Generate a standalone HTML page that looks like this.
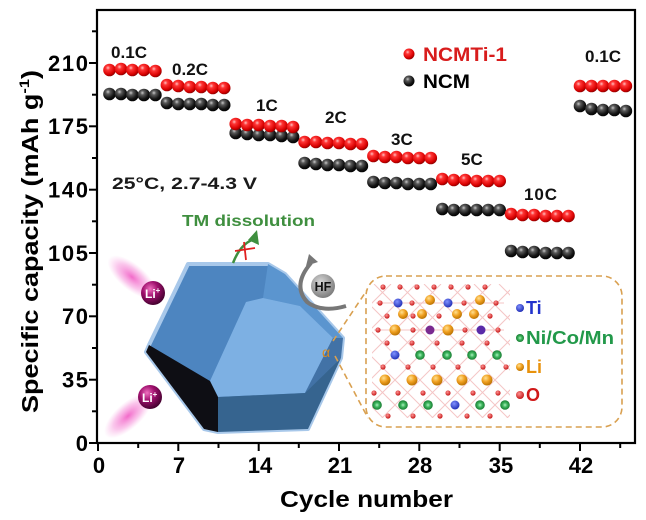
<!DOCTYPE html>
<html><head><meta charset="utf-8"><style>
html,body{margin:0;padding:0;background:#fff;}
svg{display:block;font-family:"Liberation Sans",Arial,"DejaVu Sans","Noto Sans CJK SC",sans-serif;}
</style></head><body>
<svg width="646" height="520" viewBox="0 0 646 520" xmlns="http://www.w3.org/2000/svg">
<defs>
<radialGradient id="gr" cx="0.38" cy="0.33" r="0.7"><stop offset="0" stop-color="#ffc0c0"/><stop offset="0.25" stop-color="#ff3535"/><stop offset="0.75" stop-color="#d80000"/><stop offset="1" stop-color="#8a0000"/></radialGradient>
<radialGradient id="gb" cx="0.38" cy="0.33" r="0.7"><stop offset="0" stop-color="#c8c8c8"/><stop offset="0.25" stop-color="#5a5a5a"/><stop offset="0.7" stop-color="#141414"/><stop offset="1" stop-color="#000"/></radialGradient>
<radialGradient id="gli" cx="0.38" cy="0.33" r="0.7"><stop offset="0" stop-color="#f070c0"/><stop offset="0.45" stop-color="#a0106e"/><stop offset="1" stop-color="#40002c"/></radialGradient>
<radialGradient id="glow"><stop offset="0" stop-color="#f050c0" stop-opacity="0.85"/><stop offset="0.6" stop-color="#f480d4" stop-opacity="0.45"/><stop offset="1" stop-color="#f8a0e0" stop-opacity="0"/></radialGradient>
<radialGradient id="ghf" cx="0.4" cy="0.35" r="0.7"><stop offset="0" stop-color="#d8d8d8"/><stop offset="1" stop-color="#777"/></radialGradient>
<radialGradient id="gLi" cx="0.38" cy="0.33" r="0.7"><stop offset="0" stop-color="#ffe090"/><stop offset="0.5" stop-color="#f0a020"/><stop offset="1" stop-color="#b87000"/></radialGradient>
<radialGradient id="gO" cx="0.4" cy="0.35" r="0.7"><stop offset="0" stop-color="#ff9090"/><stop offset="1" stop-color="#c01010"/></radialGradient>
<radialGradient id="gTi" cx="0.4" cy="0.35" r="0.7"><stop offset="0" stop-color="#8090ff"/><stop offset="1" stop-color="#1a28b0"/></radialGradient>
<radialGradient id="gNi" cx="0.5" cy="0.5" r="0.5"><stop offset="0" stop-color="#b0f0c0"/><stop offset="0.45" stop-color="#40b860"/><stop offset="1" stop-color="#167a30"/></radialGradient>
<clipPath id="latclip"><rect x="372" y="284" width="138" height="134"/></clipPath>
</defs>

<rect x="97" y="10" width="538" height="433" fill="none" stroke="#000" stroke-width="2.2"/>

<g stroke="#000" stroke-width="2">
<line x1="89" y1="443" x2="97" y2="443"/><line x1="89" y1="379.7" x2="97" y2="379.7"/><line x1="89" y1="316.3" x2="97" y2="316.3"/><line x1="89" y1="253" x2="97" y2="253"/><line x1="89" y1="189.7" x2="97" y2="189.7"/><line x1="89" y1="126.3" x2="97" y2="126.3"/><line x1="89" y1="63" x2="97" y2="63"/>
<line x1="92" y1="411.3" x2="97" y2="411.3"/><line x1="92" y1="348" x2="97" y2="348"/><line x1="92" y1="284.7" x2="97" y2="284.7"/><line x1="92" y1="221.3" x2="97" y2="221.3"/><line x1="92" y1="158" x2="97" y2="158"/><line x1="92" y1="94.7" x2="97" y2="94.7"/><line x1="92" y1="31.3" x2="97" y2="31.3"/>
</g>
<g stroke="#000" stroke-width="2">
<line x1="98" y1="443" x2="98" y2="451"/><line x1="178.3" y1="443" x2="178.3" y2="451"/><line x1="258.7" y1="443" x2="258.7" y2="451"/><line x1="339" y1="443" x2="339" y2="451"/><line x1="419.3" y1="443" x2="419.3" y2="451"/><line x1="499.7" y1="443" x2="499.7" y2="451"/><line x1="580" y1="443" x2="580" y2="451"/>
<line x1="138.2" y1="443" x2="138.2" y2="448"/><line x1="218.5" y1="443" x2="218.5" y2="448"/><line x1="298.8" y1="443" x2="298.8" y2="448"/><line x1="379.2" y1="443" x2="379.2" y2="448"/><line x1="459.5" y1="443" x2="459.5" y2="448"/><line x1="539.8" y1="443" x2="539.8" y2="448"/><line x1="620.2" y1="443" x2="620.2" y2="448"/>
</g>

<g font-size="22" font-weight="bold" fill="#000" text-anchor="end">
<text x="88" y="451">0</text>
<text x="88" y="387.5" textLength="26">35</text>
<text x="88" y="324" textLength="26">70</text>
<text x="88" y="261" textLength="40">105</text>
<text x="88" y="197.5" textLength="40">140</text>
<text x="88" y="134" textLength="40">175</text>
<text x="88" y="71" textLength="40">210</text>
</g>
<g font-size="22" font-weight="bold" fill="#000" text-anchor="middle">
<text x="99" y="473">0</text><text x="179" y="473">7</text><text x="260" y="473">14</text><text x="340" y="473">21</text><text x="420" y="473">28</text><text x="501" y="473">35</text><text x="581" y="473">42</text>
</g>

<text x="280" y="507" font-size="23" font-weight="bold" textLength="173" lengthAdjust="spacingAndGlyphs">Cycle number</text>
<text transform="translate(38,241.5) rotate(-90)" font-size="23" font-weight="bold" text-anchor="middle" textLength="343" lengthAdjust="spacingAndGlyphs">Specific capacity (mAh g<tspan font-size="14" dy="-9">-1</tspan><tspan dy="9">)</tspan></text>

<ellipse cx="132" cy="277" rx="30" ry="13" fill="url(#glow)" transform="rotate(40 132 277)"/>
<ellipse cx="128" cy="416" rx="30" ry="13" fill="url(#glow)" transform="rotate(-42 128 416)"/>

<polygon points="188,264 268,264 285,274 343,338 341,358 308,429 218,432 204,429 146,352 149,345" fill="#4d85c0" stroke="#a8c8ea" stroke-width="4" stroke-linejoin="round"/>
<polygon points="268,264 285,274 343,338 333,338 300,306 263,298" fill="#5b95cf"/>
<polygon points="246,302 263,298 300,306 333,338 305,393 218,397 210,381" fill="#7db0e3"/>
<polygon points="333,338 343,338 341,358 305,393" fill="#4272a6"/>
<polygon points="218,397 305,393 341,358 308,429 218,432" fill="#36648f"/>
<polygon points="146,352 149,345 210,381 218,397 218,432 204,429" fill="#0e0e14"/>

<circle cx="153" cy="293" r="12" fill="url(#gli)"/>
<text x="145" y="298" font-size="12" font-weight="bold" fill="#fff">Li<tspan font-size="8" dy="-5">+</tspan></text>
<circle cx="150" cy="397" r="12" fill="url(#gli)"/>
<text x="142" y="402" font-size="12" font-weight="bold" fill="#fff">Li<tspan font-size="8" dy="-5">+</tspan></text>

<text x="182" y="226" font-size="16" font-weight="bold" fill="#3f8f3f" textLength="133" lengthAdjust="spacingAndGlyphs">TM dissolution</text>
<path d="M233 263 Q240 245 252 240" fill="none" stroke="#3f8f3f" stroke-width="2.5"/>
<polygon points="257,230 259,245 248,240" fill="#3f8f3f"/>
<line x1="235" y1="251" x2="255" y2="248" stroke="#e02020" stroke-width="1.8"/>
<line x1="244" y1="242" x2="246" y2="260" stroke="#e02020" stroke-width="1.8"/>

<path d="M311 263 Q292 285 307 302 Q322 313 346 306" fill="none" stroke="#777" stroke-width="4"/>
<polygon points="309,254 318,262 306,266" fill="#777"/>
<circle cx="323" cy="286" r="12" fill="url(#ghf)"/>
<text x="323" y="291" font-size="12.5" font-weight="bold" fill="#111" text-anchor="middle">HF</text>

<g fill="none" stroke="#d9a050" stroke-width="1.6" stroke-dasharray="6 4">
<line x1="333" y1="341" x2="367" y2="290"/>
<line x1="335" y1="356" x2="368" y2="418"/>
<rect x="366" y="276" width="256" height="151" rx="20" ry="20"/>
</g>
<text x="322" y="357" font-size="14" fill="#d98a20">α</text>

<g clip-path="url(#latclip)" stroke="#e88080" stroke-width="1" opacity="0.45">
<line x1="249" y1="284" x2="383" y2="418"/><line x1="274" y1="284" x2="408" y2="418"/><line x1="299" y1="284" x2="433" y2="418"/><line x1="324" y1="284" x2="458" y2="418"/><line x1="349" y1="284" x2="483" y2="418"/><line x1="374" y1="284" x2="508" y2="418"/><line x1="399" y1="284" x2="533" y2="418"/><line x1="424" y1="284" x2="558" y2="418"/><line x1="449" y1="284" x2="583" y2="418"/><line x1="474" y1="284" x2="608" y2="418"/><line x1="499" y1="284" x2="633" y2="418"/>
<line x1="391" y1="284" x2="257" y2="418"/><line x1="416" y1="284" x2="282" y2="418"/><line x1="441" y1="284" x2="307" y2="418"/><line x1="466" y1="284" x2="332" y2="418"/><line x1="491" y1="284" x2="357" y2="418"/><line x1="516" y1="284" x2="382" y2="418"/><line x1="541" y1="284" x2="407" y2="418"/><line x1="566" y1="284" x2="432" y2="418"/><line x1="591" y1="284" x2="457" y2="418"/><line x1="616" y1="284" x2="482" y2="418"/><line x1="641" y1="284" x2="507" y2="418"/>
<line x1="376" y1="303" x2="504" y2="303"/><line x1="374" y1="330" x2="504" y2="330"/>
</g>
<g fill="url(#gO)">
<circle cx="383" cy="287" r="2.6"/><circle cx="400" cy="287" r="2.6"/><circle cx="417" cy="287" r="2.6"/><circle cx="434" cy="287" r="2.6"/><circle cx="451" cy="287" r="2.6"/><circle cx="468" cy="287" r="2.6"/><circle cx="485" cy="287" r="2.6"/>
<circle cx="380" cy="303" r="2.6"/><circle cx="412" cy="303" r="2.6"/><circle cx="464" cy="303" r="2.6"/><circle cx="496" cy="303" r="2.6"/>
<circle cx="387" cy="316" r="2.6"/><circle cx="413" cy="316" r="2.6"/><circle cx="439" cy="316" r="2.6"/><circle cx="490" cy="316" r="2.6"/>
<circle cx="378" cy="330" r="2.6"/><circle cx="413" cy="330" r="2.6"/><circle cx="465" cy="330" r="2.6"/><circle cx="498" cy="330" r="2.6"/>
<circle cx="387" cy="343" r="2.6"/><circle cx="412" cy="343" r="2.6"/><circle cx="437" cy="343" r="2.6"/><circle cx="462" cy="343" r="2.6"/><circle cx="487" cy="343" r="2.6"/>
<circle cx="383" cy="367" r="2.6"/><circle cx="408" cy="367" r="2.6"/><circle cx="433" cy="367" r="2.6"/><circle cx="458" cy="367" r="2.6"/><circle cx="483" cy="367" r="2.6"/><circle cx="506" cy="367" r="2.6"/>
<circle cx="374" cy="393" r="2.6"/><circle cx="398" cy="393" r="2.6"/><circle cx="423" cy="393" r="2.6"/><circle cx="448" cy="393" r="2.6"/><circle cx="473" cy="393" r="2.6"/><circle cx="498" cy="393" r="2.6"/>
<circle cx="388" cy="416" r="2.6"/><circle cx="413" cy="416" r="2.6"/><circle cx="440" cy="416" r="2.6"/><circle cx="467" cy="416" r="2.6"/><circle cx="490" cy="416" r="2.6"/>
</g>
<g fill="url(#gLi)">
<circle cx="430" cy="300" r="5"/><circle cx="480" cy="300" r="5"/>
<circle cx="403" cy="314" r="5"/><circle cx="422" cy="314" r="5"/><circle cx="457" cy="314" r="5"/><circle cx="474" cy="314" r="5"/>
<circle cx="395" cy="330" r="5.5"/><circle cx="448" cy="330" r="5.5"/>
<circle cx="385" cy="380" r="5.5"/><circle cx="412" cy="380" r="5.5"/><circle cx="437" cy="380" r="5.5"/><circle cx="462" cy="380" r="5.5"/><circle cx="487" cy="380" r="5.5"/>
</g>
<g fill="url(#gTi)">
<circle cx="398" cy="303" r="4.5"/><circle cx="448" cy="303" r="4.5"/>
<circle cx="430" cy="330" r="4.5" fill="#7a2a90"/><circle cx="481" cy="330" r="4.5" fill="#5a2aa8"/>
<circle cx="395" cy="355" r="4.5"/><circle cx="455" cy="405" r="4.5"/>
</g>
<g fill="url(#gNi)">
<circle cx="420" cy="355" r="4.8"/><circle cx="447" cy="355" r="4.8"/><circle cx="472" cy="355" r="4.8"/><circle cx="497" cy="355" r="4.8"/>
<circle cx="377" cy="405" r="4.8"/><circle cx="403" cy="405" r="4.8"/><circle cx="428" cy="405" r="4.8"/><circle cx="480" cy="405" r="4.8"/><circle cx="505" cy="405" r="4.8"/>
</g>

<circle cx="520" cy="308" r="4" fill="url(#gTi)"/>
<circle cx="520" cy="338" r="4" fill="url(#gNi)"/>
<circle cx="520" cy="367" r="4" fill="url(#gLi)"/>
<circle cx="520" cy="395" r="4" fill="url(#gO)"/>
<g font-size="18" font-weight="bold">
<text x="526" y="314" fill="#2233cc">Ti</text>
<text x="526" y="344" fill="#22994a" textLength="88" lengthAdjust="spacingAndGlyphs">Ni/Co/Mn</text>
<text x="526" y="373" fill="#e8920c">Li</text>
<text x="526" y="401" fill="#d01818">O</text>
</g>

<g font-size="17" font-weight="bold" fill="#111">
<text x="111" y="58" textLength="36">0.1C</text>
<text x="172" y="75" textLength="36">0.2C</text>
<text x="256" y="111">1C</text>
<text x="325" y="123">2C</text>
<text x="391" y="145">3C</text>
<text x="461" y="165">5C</text>
<text x="524" y="200" textLength="33">10C</text>
<text x="585" y="62" textLength="36">0.1C</text>
</g>
<text x="112" y="189" font-size="16.5" font-weight="bold" fill="#1a1a1a" textLength="145" lengthAdjust="spacingAndGlyphs">25°C,  2.7-4.3 V</text>

<circle cx="409" cy="54" r="5.5" fill="url(#gr)"/>
<circle cx="409" cy="81" r="5.5" fill="url(#gb)"/>
<text x="423" y="61" font-size="19" font-weight="bold" fill="#d81c1c" textLength="84" lengthAdjust="spacingAndGlyphs">NCMTi-1</text>
<text x="423" y="88" font-size="19" font-weight="bold" fill="#000" textLength="47" lengthAdjust="spacingAndGlyphs">NCM</text>

<g fill="url(#gb)">
<circle cx="109.5" cy="94" r="6.3"/><circle cx="121" cy="94" r="6.3"/><circle cx="132.4" cy="95" r="6.3"/><circle cx="143.9" cy="95" r="6.3"/><circle cx="155.4" cy="95" r="6.3"/>
<circle cx="166.9" cy="103" r="6.3"/><circle cx="178.3" cy="104" r="6.3"/><circle cx="189.8" cy="104" r="6.3"/><circle cx="201.3" cy="104" r="6.3"/><circle cx="212.8" cy="105" r="6.3"/><circle cx="224.2" cy="105" r="6.3"/>
<circle cx="235.7" cy="133" r="6.3"/><circle cx="247.2" cy="134" r="6.3"/><circle cx="258.7" cy="135" r="6.3"/><circle cx="270.1" cy="135" r="6.3"/><circle cx="281.6" cy="136" r="6.3"/><circle cx="293.1" cy="137" r="6.3"/>
<circle cx="304.6" cy="163" r="6.3"/><circle cx="316" cy="164" r="6.3"/><circle cx="327.5" cy="165" r="6.3"/><circle cx="339" cy="165" r="6.3"/><circle cx="350.5" cy="166" r="6.3"/><circle cx="361.9" cy="166" r="6.3"/>
<circle cx="373.4" cy="182" r="6.3"/><circle cx="384.9" cy="183" r="6.3"/><circle cx="396.4" cy="183" r="6.3"/><circle cx="407.9" cy="184" r="6.3"/><circle cx="419.3" cy="184" r="6.3"/><circle cx="430.8" cy="184" r="6.3"/>
<circle cx="442.3" cy="209" r="6.3"/><circle cx="453.8" cy="210" r="6.3"/><circle cx="465.2" cy="210" r="6.3"/><circle cx="476.7" cy="210" r="6.3"/><circle cx="488.2" cy="210" r="6.3"/><circle cx="499.7" cy="210" r="6.3"/>
<circle cx="511.1" cy="251" r="6.3"/><circle cx="522.6" cy="252" r="6.3"/><circle cx="534.1" cy="252" r="6.3"/><circle cx="545.6" cy="253" r="6.3"/><circle cx="557" cy="253" r="6.3"/><circle cx="568.5" cy="253" r="6.3"/>
<circle cx="580" cy="106" r="6.3"/><circle cx="591.5" cy="109" r="6.3"/><circle cx="603" cy="110" r="6.3"/><circle cx="614.4" cy="110" r="6.3"/><circle cx="625.9" cy="111" r="6.3"/>
</g>
<g fill="url(#gr)">
<circle cx="109.5" cy="70" r="6.3"/><circle cx="121" cy="69" r="6.3"/><circle cx="132.4" cy="70" r="6.3"/><circle cx="143.9" cy="70" r="6.3"/><circle cx="155.4" cy="71" r="6.3"/>
<circle cx="166.9" cy="85" r="6.3"/><circle cx="178.3" cy="86" r="6.3"/><circle cx="189.8" cy="87" r="6.3"/><circle cx="201.3" cy="87" r="6.3"/><circle cx="212.8" cy="88" r="6.3"/><circle cx="224.2" cy="88" r="6.3"/>
<circle cx="235.7" cy="124" r="6.3"/><circle cx="247.2" cy="125" r="6.3"/><circle cx="258.7" cy="125" r="6.3"/><circle cx="270.1" cy="126" r="6.3"/><circle cx="281.6" cy="126" r="6.3"/><circle cx="293.1" cy="127" r="6.3"/>
<circle cx="304.6" cy="142" r="6.3"/><circle cx="316" cy="142" r="6.3"/><circle cx="327.5" cy="143" r="6.3"/><circle cx="339" cy="143" r="6.3"/><circle cx="350.5" cy="144" r="6.3"/><circle cx="361.9" cy="144" r="6.3"/>
<circle cx="373.4" cy="156" r="6.3"/><circle cx="384.9" cy="157" r="6.3"/><circle cx="396.4" cy="157" r="6.3"/><circle cx="407.9" cy="158" r="6.3"/><circle cx="419.3" cy="158" r="6.3"/><circle cx="430.8" cy="158" r="6.3"/>
<circle cx="442.3" cy="179" r="6.3"/><circle cx="453.8" cy="180" r="6.3"/><circle cx="465.2" cy="180" r="6.3"/><circle cx="476.7" cy="181" r="6.3"/><circle cx="488.2" cy="181" r="6.3"/><circle cx="499.7" cy="181" r="6.3"/>
<circle cx="511.1" cy="214" r="6.3"/><circle cx="522.6" cy="215" r="6.3"/><circle cx="534.1" cy="215" r="6.3"/><circle cx="545.6" cy="216" r="6.3"/><circle cx="557" cy="216" r="6.3"/><circle cx="568.5" cy="216" r="6.3"/>
<circle cx="580" cy="86" r="6.3"/><circle cx="591.5" cy="86" r="6.3"/><circle cx="603" cy="86" r="6.3"/><circle cx="614.4" cy="86" r="6.3"/><circle cx="625.9" cy="86" r="6.3"/>
</g>
</svg>
</body></html>
